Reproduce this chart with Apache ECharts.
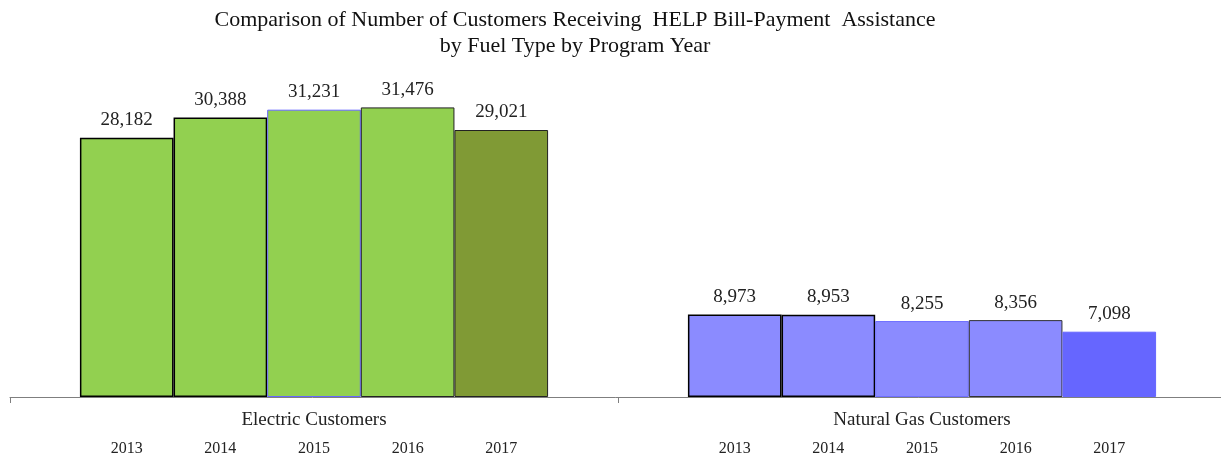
<!DOCTYPE html>
<html>
<head>
<meta charset="utf-8">
<script src="https://cdn.jsdelivr.net/npm/echarts@6/dist/echarts.min.js"></script>
<style>
    html, body { margin: 0; padding: 0; background: #fff; }
    #chart { width: 1221px; height: 455px; }
</style>
</head>
<body>
<div id="chart"></div>
<script>
// data
var categories = ['Electric Customers', 'Natural Gas Customers']
var years = ['2013', '2014', '2015', '2016', '2017']
var electric = [28182, 30388, 31231, 31476, 29021]
var gas = [8973, 8953, 8255, 8356, 7098]

var fillElec = ['#92d050', '#92d050', '#92d050', '#92d050', '#809a35']
var fillGas = ['#8b8bff', '#8b8bff', '#8b8bff', '#8b8bff', '#6666ff']
var borderElec = ['#000', '#000', '#6666ff', '#222', '#222']
var borderGas = ['#000', '#000', '#6f6fff', '#333', '#6666ff']
var borderW = [1.5, 1.5, 1, 1, 1]

var font = '"Liberation Serif", "Times New Roman", serif'

var myChart = echarts.init(document.getElementById('chart'))
var series = []
years.forEach(function (y, i) {
    // main bars
    series.push({
        name: y,
        type: 'bar',
        stack: 's' + y,
        barGap: 0,
        barCategoryGap: '23%',
        data: [
            { value: electric[i], itemStyle: { color: fillElec[i], borderColor: borderElec[i], borderWidth: borderW[i] } },
            { value: gas[i], itemStyle: { color: fillGas[i], borderColor: borderGas[i], borderWidth: borderW[i] } }
        ],
        label: {
            show: true,
            position: 'top',
            distance: 8,
            fontFamily: font,
            fontSize: 19,
            color: '#222',
            formatter: function (p) {
                return p.value.toLocaleString('en-US')
            }
        }
    })
    // tiny transparent bar under the axis, only to hold the year label
    series.push({
        name: y,
        type: 'bar',
        stack: 's' + y,
        clip: false,
        silent: true,
        data: [-0.001, -0.001],
        itemStyle: { color: 'transparent' },
        label: {
            show: true,
            position: 'bottom',
            distance: 44,
            fontFamily: font,
            fontSize: 16,
            color: '#222',
            formatter: function (p) {
                return p.seriesName
            }
        }
    })
})

var option = {
    animation: false,
    title: {
        text: 'Comparison of Number of Customers Receiving  HELP Bill-Payment  Assistance\nby Fuel Type by Program Year',
        left: 570,
        top: 2,
        textAlign: 'center',
        textStyle: {
            fontFamily: font,
            fontSize: 22,
            fontWeight: 'normal',
            color: '#111',
            lineHeight: 26
        }
    },
    grid: {
        left: 10,
        top: 52,
        width: 1216,
        height: 345,
        outerBoundsMode: 'none'
    },
    xAxis: {
        type: 'category',
        data: categories,
        boundaryGap: true,
        axisLine: { lineStyle: { color: '#7f7f7f', width: 1 } },
        axisTick: { show: true, length: 6, lineStyle: { color: '#7f7f7f' } },
        axisLabel: {
            margin: 14,
            fontFamily: font,
            fontSize: 19,
            color: '#222'
        }
    },
    yAxis: {
        type: 'value',
        min: 0,
        max: 37500,
        show: false,
        splitLine: { show: false }
    },
    series: series
}
myChart.setOption(option)
</script>
</body>
</html>
